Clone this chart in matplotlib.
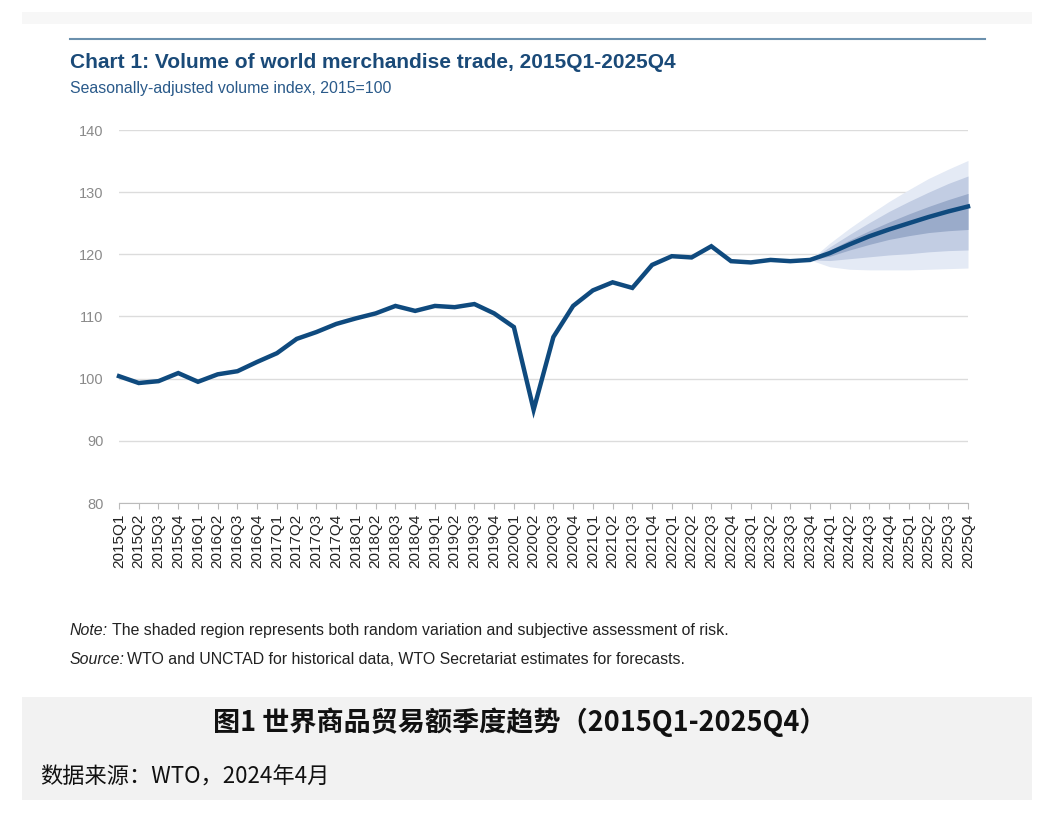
import numpy as np
import matplotlib.pyplot as plt
from matplotlib.patches import Rectangle

plt.rcParams['font.family'] = ['Liberation Sans', 'Noto Sans CJK SC', 'DejaVu Sans']

# quarterly labels 2015Q1 - 2025Q4
quarters = [f"{y}Q{q}" for y in range(2015, 2026) for q in range(1, 5)]

# seasonally-adjusted volume index, 2015=100 (history + central forecast)
volume = [100.4, 99.3, 99.6, 100.9, 99.5, 100.7, 101.2, 102.7,
          104.1, 106.4, 107.5, 108.8, 109.7, 110.5, 111.7, 110.9,
          111.7, 111.5, 112.0, 110.5, 108.3, 95.0, 106.7, 111.7,
          114.2, 115.5, 114.6, 118.3, 119.7, 119.5, 121.3, 118.9,
          118.7, 119.1, 118.9, 119.1,
          120.2, 121.6, 122.9, 124.0, 125.0, 126.0, 126.9, 127.7]

# fan chart bands, from 2023Q4 to 2025Q4
fan_start = 35
outer_hi = [119.1, 121.8, 124.2, 126.4, 128.5, 130.4, 132.2, 133.7, 135.1]
outer_lo = [119.1, 118.0, 117.6, 117.5, 117.5, 117.5, 117.6, 117.7, 117.8]
mid_hi = [119.1, 121.2, 123.2, 125.1, 126.9, 128.5, 130.0, 131.4, 132.6]
mid_lo = [119.1, 119.0, 119.3, 119.6, 119.9, 120.1, 120.4, 120.6, 120.7]
inner_hi = [119.1, 120.7, 122.3, 123.8, 125.2, 126.5, 127.7, 128.8, 129.8]
inner_lo = [119.1, 119.7, 120.7, 121.6, 122.4, 123.0, 123.5, 123.8, 124.0]

navy = '#0f4a7e'

fig = plt.figure(figsize=(10.57, 8.21), dpi=100)
W, H = 1057, 821

# top shadow strip and bottom caption box
fig.patches.append(Rectangle((22 / W, 1 - 24 / H), 1010 / W, 12 / H, transform=fig.transFigure,
                             facecolor='#f7f7f7', edgecolor='none', zorder=0))
fig.patches.append(Rectangle((22 / W, 1 - 800 / H), 1010 / W, 103 / H, transform=fig.transFigure,
                             facecolor='#f2f2f2', edgecolor='none', zorder=0))
fig.add_artist(plt.Line2D([70 / W, 985 / W], [1 - 39 / H, 1 - 39 / H], color='#6b90ad', lw=1.5))

ax = fig.add_axes([119 / W, 1 - 503 / H, (968 - 119) / W, (503 - 130) / H])
x = np.arange(len(quarters))
fx = x[fan_start:]

ax.fill_between(fx, outer_lo, outer_hi, color='#e4eaf5', lw=0, zorder=2)
ax.fill_between(fx, mid_lo, mid_hi, color='#c2cde3', lw=0, zorder=3)
ax.fill_between(fx, inner_lo, inner_hi, color='#9aabca', lw=0, zorder=4)
ax.plot(x, volume, color=navy, lw=3.2, solid_joinstyle='miter', zorder=5, clip_on=False)

ax.set_xlim(0, len(quarters) - 1)
ax.set_ylim(80, 140)
ax.set_yticks(range(80, 141, 10))
ax.set_xticks(x)
ax.set_xticklabels(quarters, rotation=90, fontsize=11, color='#222222')
ax.tick_params(axis='y', length=0, labelsize=10.5, labelcolor='#8a8a8a', pad=11)
ax.tick_params(axis='x', length=4, color='#bbbbbb', pad=4)
ax.grid(axis='y', color='#dcdcdc', lw=1.0, zorder=1)
ax.set_axisbelow(True)
for s in ['top', 'right', 'left']:
    ax.spines[s].set_visible(False)
ax.spines['bottom'].set_color('#bbbbbb')

fig.text(70 / W, 1 - 62 / H, 'Chart 1: Volume of world merchandise trade, 2015Q1-2025Q4',
         fontsize=15, fontweight='bold', color='#1a4a78', va='center')
fig.text(70 / W, 1 - 89 / H, 'Seasonally-adjusted volume index, 2015=100',
         fontsize=11.4, color='#2a5a8a', va='center')

fig.text(70 / W, 1 - 630 / H, 'Note:', fontsize=11.4, style='italic', color='#222222', va='center')
fig.text(112 / W, 1 - 630 / H, 'The shaded region represents both random variation and subjective assessment of risk.',
         fontsize=11.4, color='#222222', va='center')
fig.text(70 / W, 1 - 659 / H, 'Source:', fontsize=11.4, style='italic', color='#222222', va='center')
fig.text(127 / W, 1 - 659 / H, 'WTO and UNCTAD for historical data, WTO Secretariat estimates for forecasts.',
         fontsize=11.4, color='#222222', va='center')

fig.text(520 / W, 1 - 722 / H, '图1 世界商品贸易额季度趋势（2015Q1-2025Q4）',
         fontsize=19.5, fontweight='bold', color='#111111', ha='center', va='center',
         family=['Noto Sans CJK SC', 'DejaVu Sans'])
fig.text(40 / W, 1 - 777 / H, '数据来源：WTO，2024年4月', fontsize=16, color='#111111', va='center',
         family=['Noto Sans CJK SC', 'DejaVu Sans'])

fig.savefig('out.png', dpi=100, facecolor='white')
